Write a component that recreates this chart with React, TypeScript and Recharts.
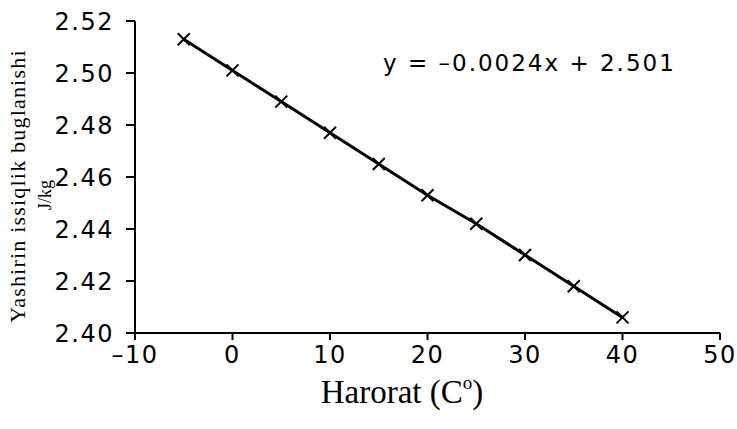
import React from 'react';
import { LineChart, Line, XAxis, YAxis } from 'recharts';

// Harorat (C) va yashirin issiqlik qiymatlari
const temps = [-5, 0, 5, 10, 15, 20, 25, 30, 35, 40];
const heat = [2.513, 2.501, 2.489, 2.477, 2.465, 2.453, 2.442, 2.43, 2.418, 2.406];
const xTicks = [-10, 0, 10, 20, 30, 40, 50];
const yTicks = [2.4, 2.42, 2.44, 2.46, 2.48, 2.5, 2.52];
const equation = 'y = \u20130.0024x + 2.501';

const data = temps.map((t, i) => ({ t, h: heat[i] }));

const SANS = '"DejaVu Sans", sans-serif';
const SERIF = '"Liberation Serif", "Times New Roman", serif';

const Cross = (props: any) => {
  const { cx, cy } = props;
  if (cx == null || cy == null) return null;
  const s = 6;
  return (
    <g stroke="#000" strokeWidth={2}>
      <line x1={cx - s} y1={cy - s} x2={cx + s} y2={cy + s} />
      <line x1={cx - s} y1={cy + s} x2={cx + s} y2={cy - s} />
    </g>
  );
};

const XTitle = () => (
  <text x={402} y={403} textAnchor="middle" fontFamily={SERIF} fontSize={33} fill="#000">
    Harorat (C
    <tspan fontSize={19} dy={-14}>o</tspan>
    <tspan dy={14}>)</tspan>
  </text>
);

const YTitle = () => (
  <g fontFamily={SERIF} fill="#000">
    <text x={25} y={186} transform="rotate(-90, 25, 186)" textAnchor="middle" fontSize={22} letterSpacing={1.2}>
      Yashirin issiqlik buglanishi
    </text>
    <text x={51} y={195} transform="rotate(-90, 51, 195)" textAnchor="middle" fontSize={18}>
      J/kg
    </text>
  </g>
);

const tickStyle = { fill: '#000', fontSize: 24, fontFamily: SANS, letterSpacing: 1.5 };

export default function App() {
  return (
    <div style={{ position: 'absolute', left: 0, top: 0, width: 737, height: 429, background: '#fff' }}>
      <LineChart width={737} height={429} data={data} margin={{ top: 21, right: 17, left: 0, bottom: 0 }}>
        <XAxis
          dataKey="t"
          type="number"
          domain={[-10, 50]}
          ticks={xTicks}
          height={96}
          tickSize={7}
          tickMargin={6}
          tickFormatter={(v: number) => (v < 0 ? '\u2013' + Math.abs(v) : String(v))}
          axisLine={{ stroke: '#000', strokeWidth: 2 }}
          tickLine={{ stroke: '#000', strokeWidth: 2 }}
          tick={tickStyle}
          label={<XTitle />}
        />
        <YAxis
          type="number"
          domain={[2.4, 2.52]}
          ticks={yTicks}
          width={135}
          tickSize={9}
          tickMargin={12}
          tickFormatter={(v: number) => v.toFixed(2)}
          axisLine={{ stroke: '#000', strokeWidth: 2 }}
          tickLine={{ stroke: '#000', strokeWidth: 2 }}
          tick={tickStyle}
          label={<YTitle />}
        />
        <Line
          dataKey="h"
          stroke="#000"
          strokeWidth={3}
          dot={<Cross />}
          activeDot={false}
          isAnimationActive={false}
        />
      </LineChart>
      <div
        style={{
          position: 'absolute',
          left: 383,
          top: 48,
          fontFamily: SANS,
          fontSize: 23,
          letterSpacing: 2,
          color: '#000',
          whiteSpace: 'nowrap',
          lineHeight: '30px',
        }}
      >
        {equation}
      </div>
    </div>
  );
}
